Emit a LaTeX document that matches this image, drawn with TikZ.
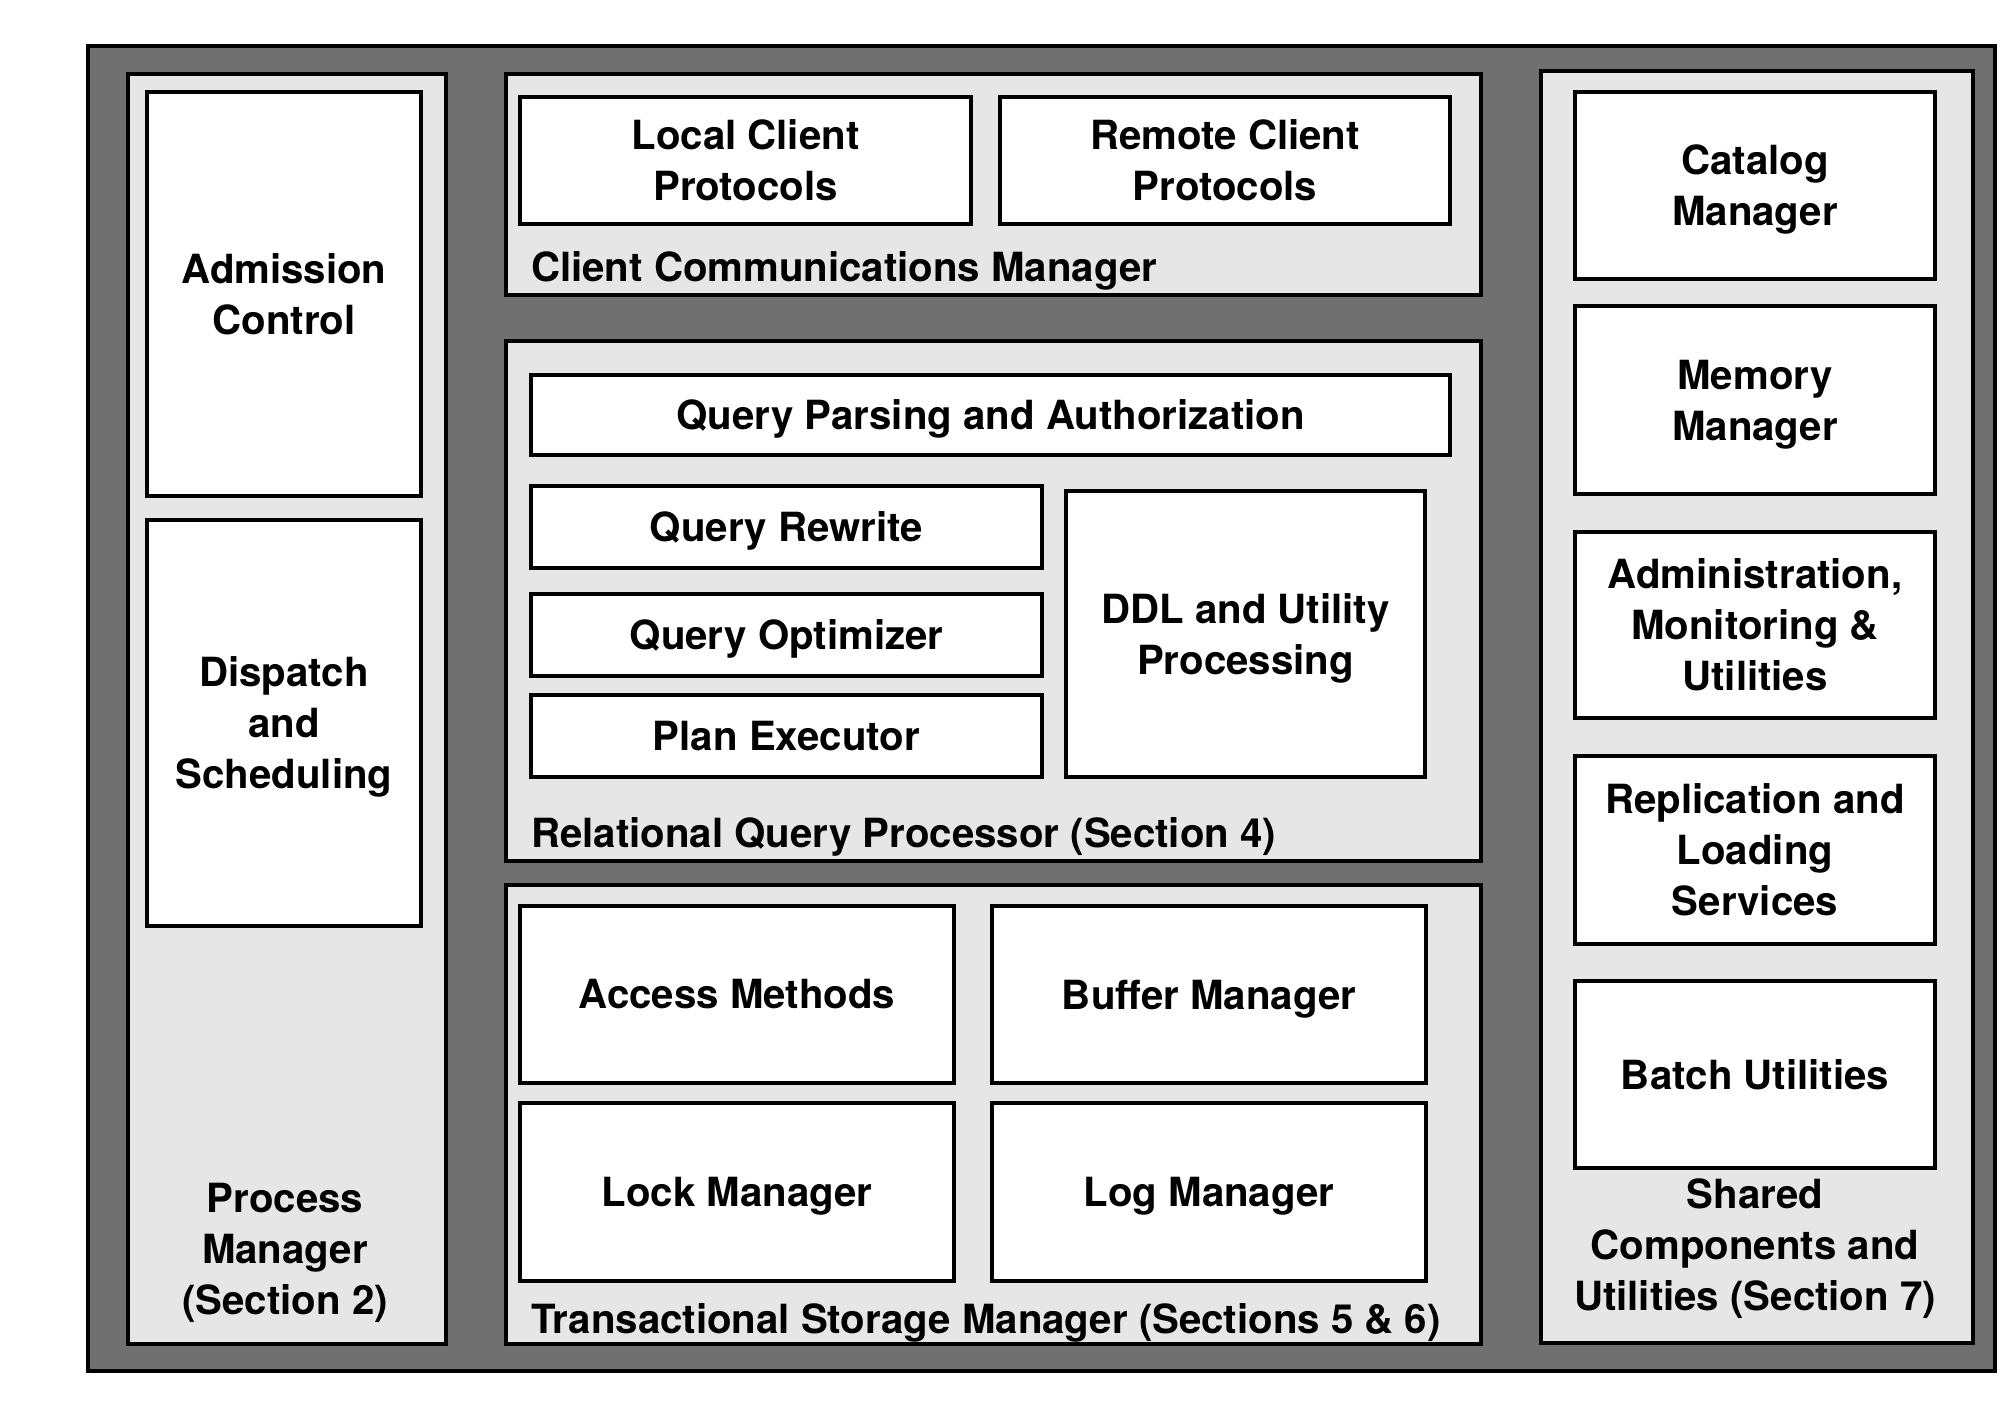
\documentclass[tikz,border=0pt]{standalone}
\usepackage{fontspec}
\setmainfont{TeX Gyre Heros}
\definecolor{darkfill}{HTML}{707070}
\definecolor{lightfill}{HTML}{E6E6E6}
\newcommand{\zdp}[1]{\raisebox{0pt}[\height][0pt]{#1}}
\begin{document}
\begin{tikzpicture}[x=1pt,y=-1pt,
  frame/.style={draw=black, line width=4.5pt, rectangle, inner sep=0pt},
  sz/.style 2 args={minimum width=#1pt, minimum height=#2pt},
  outerbox/.style={frame, fill=darkfill},
  groupbox/.style={frame, fill=lightfill},
  unitbox/.style={frame, fill=white, align=center, font=\fontsize{40.2}{51}\selectfont\bfseries},
  lbl/.style={inner sep=0pt, align=center, font=\fontsize{40.2}{51}\selectfont\bfseries}]
\useasboundingbox[fill=white] (0,0) rectangle (2000,1411);
% outer frame
\node[outerbox, sz={1907}{1325}] (outer) at (1041.5,708.5) {};
% columns / groups
\node[groupbox, sz={318}{1270}] (pm) at (287,709) {};
\node[groupbox, sz={975}{221}] (ccm) at (993.5,184.5) {};
\node[groupbox, sz={975}{520}] (rqp) at (993.5,601) {};
\node[groupbox, sz={975}{459}] (tsm) at (993.5,1114.5) {};
\node[groupbox, sz={432}{1272}] (scu) at (1757,707) {};
% process manager
\node[unitbox, sz={274}{404}] (adm) at (284,294) {Admission\\Control};
\node[unitbox, sz={274}{406}] (disp) at (284,723) {Dispatch\\and\\\zdp{Scheduling}};
\node[lbl] (pmlbl) at (285,1253) {Process\\Manager\\(Section 2)};
% client communications manager
\node[unitbox, sz={451}{127}] (local) at (745.5,160.5) {Local Client\\Protocols};
\node[unitbox, sz={450}{127}] (remote) at (1225,160.5) {Remote Client\\Protocols};
\node[lbl, anchor=base west] (ccmlbl) at (531,281) {Client Communications Manager};
% relational query processor
\node[unitbox, sz={919}{80}] (qpa) at (990.5,415) {\zdp{Query Parsing and Authorization}};
\node[unitbox, sz={511}{82}] (qr) at (786.5,527) {\zdp{Query Rewrite}};
\node[unitbox, sz={511}{82}] (qo) at (786.5,635) {\zdp{Query Optimizer}};
\node[unitbox, sz={511}{82}] (pe) at (786.5,736) {Plan Executor};
\node[unitbox, sz={359}{286}] (ddl) at (1245.5,634) {DDL and Utility\\\zdp{Processing}};
\node[lbl, anchor=base west] (rqplbl) at (531,847) {Relational Query Processor (Section 4)};
% transactional storage manager
\node[unitbox, sz={434}{177}] (am) at (737,994.5) {Access Methods};
\node[unitbox, sz={434}{177}] (bm) at (1209,994.5) {\zdp{Buffer Manager}};
\node[unitbox, sz={434}{178}] (lockm) at (737,1192) {\zdp{Lock Manager}};
\node[unitbox, sz={434}{178}] (logm) at (1209,1192) {\zdp{Log Manager}};
\node[lbl, anchor=base west] (tsmlbl) at (531,1333) {Transactional Storage Manager (Sections 5 \& 6)};
% shared components
\node[unitbox, sz={360}{187}] (cat) at (1755,185.5) {Catalog\\\zdp{Manager}};
\node[unitbox, sz={360}{188}] (mem) at (1755,400) {Memory\\\zdp{Manager}};
\node[unitbox, sz={360}{186}] (admin) at (1755,625) {Administration,\\Monitoring \&\\Utilities};
\node[unitbox, sz={360}{188}] (repl) at (1755,850) {Replication and\\Loading\\Services};
\node[unitbox, sz={360}{187}] (batch) at (1755,1074.5) {Batch Utilities};
\node[lbl] (scului) at (1755,1249) {Shared\\Components and\\Utilities (Section 7)};
\end{tikzpicture}
\end{document}
